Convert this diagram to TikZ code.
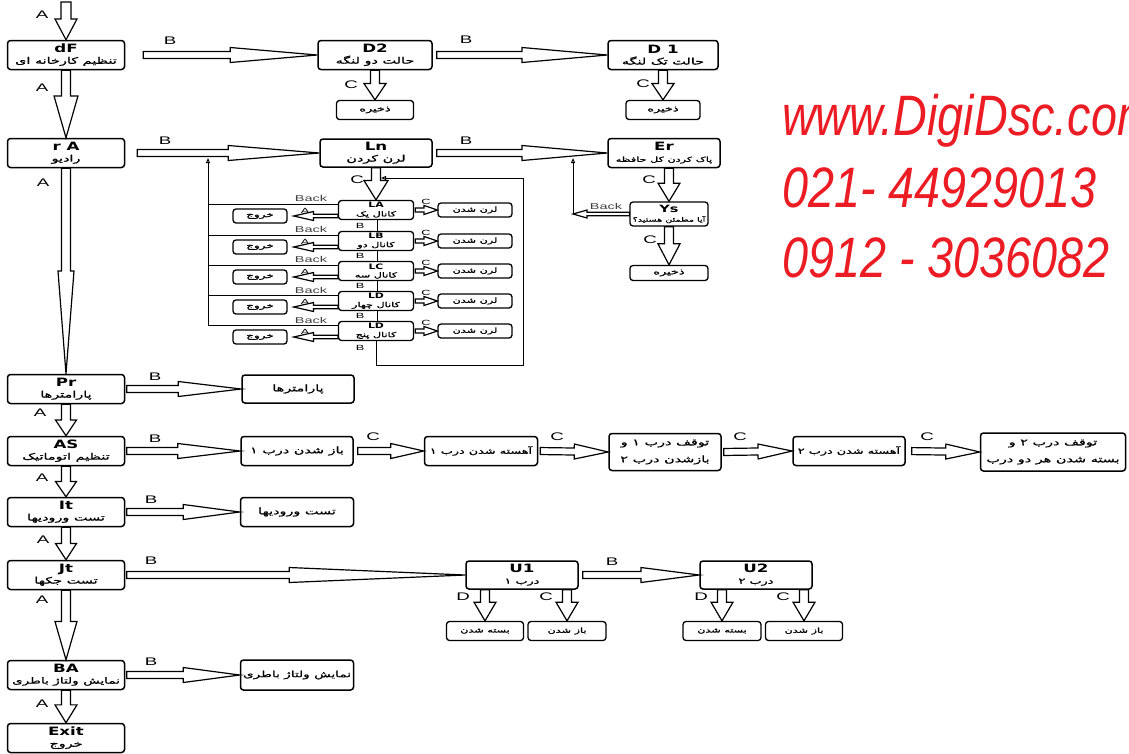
\documentclass[tikz,border=0pt]{standalone}
\usepackage{fontspec}
\setmainfont{Liberation Sans}
\newfontfamily\fa[Script=Arabic,FakeStretch=1.6,FakeBold=1]{DejaVu Sans}
\newfontfamily\ttlfont[FakeStretch=1.45]{DejaVu Sans}
\newfontfamily\widefont[FakeStretch=1.7]{Liberation Sans}
\newfontfamily\webfont[FakeStretch=0.82]{Liberation Sans}
\usetikzlibrary{arrows.meta,positioning,calc}
\TeXXeTstate=1
\definecolor{webred}{HTML}{EC1C24}

\newcommand{\ttl}[2][11.5]{{\fontsize{#1}{#1}\selectfont\ttlfont\bfseries #2}}
\newcommand{\fat}[2][9]{{\fontsize{#1}{#1}\selectfont\fa\beginR #2\endR}}
% hollow block arrow: from, to, gap at start, half shaft, half head, where the head starts
\newcommand{\blk}[6]{%
  \coordinate (hS) at ($(#1)!#3!(#2)$);
  \coordinate (hE) at (#2);
  \coordinate (hH) at ($(hS)!#6!(hE)$);
  \draw[blkline] ($(hS)!#4!90:(hE)$) -- ($(hH)!#4!-90:(hS)$)
    -- ($(hH)!#5!-90:(hS)$) -- (hE) -- ($(hH)!#5!90:(hS)$)
    -- ($(hH)!#4!90:(hS)$) -- ($(hS)!#4!-90:(hE)$) -- cycle;}

\begin{document}
\begin{tikzpicture}[x=1pt, y=-1pt,
  every node/.style={font=\small},
  box/.style={draw=black, line width=1.5pt, rounded corners=3pt, fill=white, inner sep=0pt, align=center},
  mainbox/.style={box, minimum width=117pt, minimum height=29pt, font=\fontsize{9}{11}\selectfont},
  subbox/.style={box, line width=1.3pt, minimum height=19pt, font=\fontsize{8}{10}\selectfont},
  chbox/.style={box, line width=1.3pt, minimum width=75pt, minimum height=19pt, font=\fontsize{7}{8.5}\selectfont},
  tinybox/.style={box, line width=1.3pt, minimum height=14pt, font=\fontsize{7}{8}\selectfont},
  blkline/.style={draw=black, line width=1.2pt, fill=white, line join=miter},
  wire/.style={draw=black, line width=1pt},
  tap/.style={wire, -{Triangle[open, length=5pt, width=4pt]}},
  link/.style={draw=black, line width=0.7pt, double, double distance=1.6pt},
  lbl/.style={font=\widefont\fontsize{11}{11}\selectfont, inner sep=0pt},
  lbls/.style={font=\widefont\fontsize{7.5}{7.5}\selectfont, inner sep=0pt},
  bk/.style={font=\widefont\fontsize{8.5}{8.5}\selectfont, text=black!75, inner sep=0pt},
  web/.style={font=\webfont\itshape\fontsize{57}{57}\selectfont, text=webred, anchor=base west, inner sep=0pt}
]
\useasboundingbox (0,0) rectangle (1129,753);

% --- main menu
\node[mainbox] (dF) at (66,55)  {\ttl{dF}\\\fat{تنظیم کارخانه ای}};
\node[mainbox] (rA) at (66,153) {\ttl{r A}\\\fat{رادیو}};
\node[mainbox] (Pr) at (66,389) {\ttl{Pr}\\\fat{پارامترها}};
\node[mainbox] (AS) at (66,451) {\ttl{AS}\\\fat{تنظیم اتوماتیک}};
\node[mainbox] (It) at (66,512) {\ttl{It}\\\fat{تست ورودیها}};
\node[mainbox] (Jt) at (66,575) {\ttl{Jt}\\\fat{تست جکها}};
\node[mainbox] (BA) at (66,675) {\ttl{BA}\\\fat[8.5]{نمایش ولتاژ باطری}};
\node[mainbox] (Ex) at (66,738) {\ttl{Exit}\\\fat{خروج}};
\coordinate (top) at (66,2);

\blk{top}{dF.north}{0pt}{5pt}{11pt}{0.45}
\blk{dF.south}{rA.north}{0pt}{4.5pt}{12pt}{0.38}
\blk{rA.south}{Pr.north}{0pt}{4.5pt}{8pt}{0.5}
\blk{Pr.south}{AS.north}{0pt}{4.5pt}{10.5pt}{0.5}
\blk{AS.south}{It.north}{0pt}{4.5pt}{10.5pt}{0.5}
\blk{It.south}{Jt.north}{0pt}{4.5pt}{10.5pt}{0.5}
\blk{Jt.south}{BA.north}{0pt}{4.5pt}{11pt}{0.45}
\blk{BA.south}{Ex.north}{0pt}{4.5pt}{11pt}{0.45}
\node[lbl] (la1) at (42,15)  {A};
\node[lbl] (la2) at (42,88)  {A};
\node[lbl] (la3) at (43,183) {A};
\node[lbl] (la4) at (40,413) {A};
\node[lbl] (la5) at (42,478) {A};
\node[lbl] (la6) at (43,540) {A};
\node[lbl] (la7) at (42,600) {A};
\node[lbl] (la8) at (42,704) {A};

% --- dF: door mode
\node[mainbox, minimum width=114pt] (D2) at (375,55) {\ttl{D2}\\\fat{حالت دو لنگه}};
\node[mainbox, minimum width=110pt] (D1) at (663,55) {\ttl{D 1}\\\fat{حالت تک لنگه}};
\node[subbox, minimum width=77pt] (sv2) at (375,110) {\fat[8]{ذخیره}};
\node[subbox, minimum width=74pt] (sv1) at (663,110) {\fat[8]{ذخیره}};
\blk{dF.east}{D2.west}{18pt}{3.5pt}{7.5pt}{0.5}
\blk{D2.east}{D1.west}{4pt}{3.5pt}{7.5pt}{0.5}
\blk{D2.south}{sv2.north}{0pt}{4.5pt}{11pt}{0.45}
\blk{D1.south}{sv1.north}{0pt}{4.5pt}{11pt}{0.45}
\node[lbl] (lb1) at (170,41) {B};
\node[lbl] (lb2) at (466,40) {B};
\node[lbl] (lc1) at (351,85) {C};
\node[lbl] (lc2) at (643,84) {C};

% --- rA: radio
\node[mainbox, minimum width=112pt, minimum height=28pt] (Ln) at (376,153) {\ttl{Ln}\\\fat{لرن کردن}};
\node[mainbox, minimum width=112pt] (Er) at (664,153) {\ttl{Er}\\\fat[7]{پاک کردن کل حافظه}};
\node[subbox, minimum width=78pt, minimum height=24pt, font=\fontsize{7}{9.5}\selectfont] (Ys) at (669,214) {\ttl[10]{Ys}\\\fat[6]{آیا مطمئن هستید؟}};
\node[subbox, minimum width=78pt, minimum height=15pt] (sv3) at (669,273) {\fat[8]{ذخیره}};
\blk{rA.east}{Ln.west}{12pt}{3.5pt}{7.5pt}{0.5}
\blk{Ln.east}{Er.west}{4pt}{3.5pt}{7.5pt}{0.5}
\blk{Ys.north |- Er.south}{Ys.north}{0pt}{4.5pt}{11pt}{0.45}
\blk{Ys.south}{sv3.north}{0pt}{4.5pt}{11pt}{0.45}
\node[lbl] (lb3) at (165,141) {B};
\node[lbl] (lb4) at (466,141) {B};
\node[lbl] (lc3) at (649,180) {C};
\node[lbl] (lc4) at (650,240) {C};
\coordinate (erT) at (573,158);
\coordinate (ysB) at (573,214);
\blk{Ys.west}{ysB}{0pt}{1.8pt}{4pt}{0.75}
\draw[tap] (ysB) -- (erT);
\node[bk] (bkY) at (606,206) {Back};

% channels
\node[chbox] (LA) at (376,210) {\ttl[7.5]{LA}\\\fat[7]{کانال یک}};
\node[chbox] (LB) at (376,241) {\ttl[7.5]{LB}\\\fat[7]{کانال دو}};
\node[chbox] (LC) at (376,271) {\ttl[7.5]{LC}\\\fat[7]{کانال سه}};
\node[chbox] (LD) at (376,301) {\ttl[7.5]{LD}\\\fat[7]{کانال چهار}};
\node[chbox] (LE) at (376,331) {\ttl[7.5]{LD}\\\fat[7]{کانال پنج}};
\node[tinybox, minimum width=74pt] (lA) at (475,210) {\fat[7]{لرن شدن}};
\node[tinybox, minimum width=74pt] (lB) at (475,241) {\fat[7]{لرن شدن}};
\node[tinybox, minimum width=74pt] (lC) at (475,271) {\fat[7]{لرن شدن}};
\node[tinybox, minimum width=74pt] (lD) at (475,301) {\fat[7]{لرن شدن}};
\node[tinybox, minimum width=74pt] (lE) at (475,331) {\fat[7]{لرن شدن}};
\node[tinybox, minimum width=54pt] (xA) at (260,216) {\fat[7.5]{خروج}};
\node[tinybox, minimum width=54pt] (xB) at (260,247) {\fat[7.5]{خروج}};
\node[tinybox, minimum width=54pt] (xC) at (260,277) {\fat[7.5]{خروج}};
\node[tinybox, minimum width=54pt] (xD) at (260,307) {\fat[7.5]{خروج}};
\node[tinybox, minimum width=54pt] (xE) at (260,337) {\fat[7.5]{خروج}};
\blk{Ln.south}{LA.north}{0pt}{4.5pt}{12pt}{0.4}
\node[lbl] (lc5) at (357,180) {C};

\blk{LA.east}{lA.west}{1pt}{2pt}{4.5pt}{0.4}
\blk{LB.east}{lB.west}{1pt}{2pt}{4.5pt}{0.4}
\blk{LC.east}{lC.west}{1pt}{2pt}{4.5pt}{0.4}
\blk{LD.east}{lD.west}{1pt}{2pt}{4.5pt}{0.4}
\blk{LE.east}{lE.west}{1pt}{2pt}{4.5pt}{0.4}
\blk{[yshift=-6pt]LA.west}{[xshift=6pt]xA.east}{0pt}{1.8pt}{4.5pt}{0.55}
\blk{[yshift=-6pt]LB.west}{[xshift=6pt]xB.east}{0pt}{1.8pt}{4.5pt}{0.55}
\blk{[yshift=-6pt]LC.west}{[xshift=6pt]xC.east}{0pt}{1.8pt}{4.5pt}{0.55}
\blk{[yshift=-6pt]LD.west}{[xshift=6pt]xD.east}{0pt}{1.8pt}{4.5pt}{0.55}
\blk{[yshift=-6pt]LE.west}{[xshift=6pt]xE.east}{0pt}{1.8pt}{4.5pt}{0.55}
\draw[link] (LA) -- (LB);
\draw[link] (LB) -- (LC);
\draw[link] (LC) -- (LD);
\draw[link] (LD) -- (LE);

% back to the radio menu
\coordinate (busT) at (208,158);
\coordinate (backA) at ([yshift=6pt]LA.west);
\coordinate (backB) at ([yshift=6pt]LB.west);
\coordinate (backC) at ([yshift=6pt]LC.west);
\coordinate (backD) at ([yshift=6pt]LD.west);
\coordinate (backE) at ([yshift=6pt]LE.west);
\draw[wire] (backA) -- (backA -| busT);
\draw[wire] (backB) -- (backB -| busT);
\draw[wire] (backC) -- (backC -| busT);
\draw[wire] (backD) -- (backD -| busT);
\draw[tap] (backE) -| (busT);
\coordinate (loopB) at (523,365);
\coordinate (loopT) at (523,178);
\coordinate (loopE) at (381,178);
\draw[tap] (LE.south) |- (loopB) -- (loopT) -- (loopE);

\node[bk] (bkA) at (311,198) {Back};
\node[bk] (bkB) at (311,229) {Back};
\node[bk] (bkC) at (311,259) {Back};
\node[bk] (bkD) at (311,290) {Back};
\node[bk] (bkE) at (311,320) {Back};
\node[lbls] (laA) at (305,211) {A};
\node[lbls] (laB) at (305,242) {A};
\node[lbls] (laC) at (305,272) {A};
\node[lbls] (laD) at (305,302) {A};
\node[lbls] (laE) at (305,332) {A};
\node[lbls] (lcA) at (426,202) {C};
\node[lbls] (lcB) at (426,233) {C};
\node[lbls] (lcC) at (426,263) {C};
\node[lbls] (lcD) at (426,293) {C};
\node[lbls] (lcE) at (426,323) {C};
\node[lbls] (lbA) at (360,226) {B};
\node[lbls] (lbB) at (360,256) {B};
\node[lbls] (lbC) at (360,286) {B};
\node[lbls] (lbD) at (360,316) {B};
\node[lbls] (lbE) at (360,348) {B};

% --- Pr: parameters
\node[mainbox, minimum width=112pt, minimum height=28pt] (prb) at (298,389) {\fat{پارامترها}};
\blk{Pr.east}{prb.west}{1.5pt}{3.5pt}{7.5pt}{0.45}
\node[lbl] (lb5) at (155,377) {B};

% --- AS: auto setup
\node[mainbox, minimum width=112pt] (as1) at (297,451) {\fat{باز شدن درب ۱}};
\node[mainbox, minimum width=113pt] (as2) at (481,451) {\fat[8]{آهسته شدن درب ۱}};
\node[mainbox, minimum width=112pt, minimum height=37pt] (as3) at (665,452) {\fat{توقف درب ۱ و}\\[6pt]\fat{بازشدن درب ۲}};
\node[mainbox, minimum width=112pt] (as4) at (849,451) {\fat[8]{آهسته شدن درب ۲}};
\node[mainbox, minimum width=145pt, minimum height=38pt] (as5) at (1053,452) {\fat{توقف درب ۲ و}\\[6pt]\fat{بسته شدن هر دو درب}};
\blk{AS.east}{as1.west}{1.5pt}{3.5pt}{7.5pt}{0.45}
\blk{as1.east}{as2.west}{4pt}{3.5pt}{7.5pt}{0.5}
\blk{as2.east}{as3.west}{2pt}{3.5pt}{7.5pt}{0.5}
\blk{as3.east}{as4.west}{2pt}{3.5pt}{7.5pt}{0.5}
\blk{as4.east}{as5.west}{6pt}{3.5pt}{7.5pt}{0.5}
\node[lbl] (lb6) at (155,439) {B};
\node[lbl] (lc6) at (373,437) {C};
\node[lbl] (lc7) at (557,437) {C};
\node[lbl] (lc8) at (740,437) {C};
\node[lbl] (lc9) at (927,437) {C};

% --- It: input test
\node[mainbox, minimum width=113pt] (itb) at (297,512) {\fat{تست ورودیها}};
\blk{It.east}{itb.west}{1.5pt}{3.5pt}{7.5pt}{0.5}
\node[lbl] (lb7) at (151,500) {B};

% --- Jt: jack test
\node[mainbox, minimum width=112pt, minimum height=28pt] (U1) at (522,575) {\ttl{U1}\\\fat[8]{درب ۱}};
\node[mainbox, minimum width=112pt, minimum height=28pt] (U2) at (756,575) {\ttl{U2}\\\fat[8]{درب ۲}};
\node[subbox, minimum width=77pt, minimum height=19pt] (u1d) at (485,631) {\fat[7]{بسته شدن}};
\node[subbox, minimum width=78pt, minimum height=19pt] (u1c) at (567,631) {\fat[7]{باز شدن}};
\node[subbox, minimum width=78pt, minimum height=19pt] (u2d) at (722,631) {\fat[7]{بسته شدن}};
\node[subbox, minimum width=77pt, minimum height=19pt] (u2c) at (804,631) {\fat[7]{باز شدن}};
\blk{Jt.east}{U1.west}{1.5pt}{3.5pt}{7.5pt}{0.48}
\blk{U1.east}{U2.west}{4pt}{3.5pt}{7.5pt}{0.5}
\blk{U1.south -| u1d.north}{u1d.north}{0pt}{4.5pt}{11pt}{0.4}
\blk{U1.south -| u1c.north}{u1c.north}{0pt}{4.5pt}{11pt}{0.4}
\blk{U2.south -| u2d.north}{u2d.north}{0pt}{4.5pt}{11pt}{0.4}
\blk{U2.south -| u2c.north}{u2c.north}{0pt}{4.5pt}{11pt}{0.4}
\node[lbl] (lb8) at (151,561) {B};
\node[lbl] (lb9) at (612,562) {B};
\node[lbl] (ld1) at (463,597) {D};
\node[lbl] (lc10) at (546,597) {C};
\node[lbl] (ld2) at (701,597) {D};
\node[lbl] (lc11) at (783,597) {C};

% --- BA: battery
\node[mainbox, minimum width=113pt, minimum height=30pt] (bab) at (297,675) {\fat[8.5]{نمایش ولتاژ باطری}};
\blk{BA.east}{bab.west}{1.5pt}{3.5pt}{7.5pt}{0.5}
\node[lbl] (lb10) at (151,662) {B};

% --- web and phone
\node[web] (url) at (782,135) {www.DigiDsc.com};
\node[web] (tel1) at (782,207) {021- 44929013};
\node[web] (tel2) at (782,277) {0912 - 3036082};
\end{tikzpicture}
\end{document}
